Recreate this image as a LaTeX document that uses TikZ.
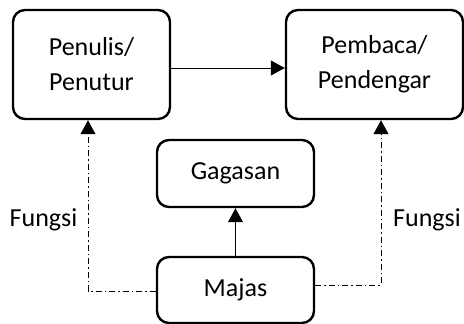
\documentclass[tikz,border=0pt]{standalone}
\usepackage{fontspec}
\setmainfont{Carlito}
\usetikzlibrary{arrows.meta}
\begin{document}
\begin{tikzpicture}[x=1pt,y=-1pt,
  box/.style={draw,line width=2.4pt,rounded corners=12pt,align=center,inner sep=0pt,
    font=\fontsize{26}{35}\selectfont},
  conn/.style={line width=1pt,-{Triangle[width=15pt,length=14pt]}},
  dashdotline/.style={conn,dash pattern=on 6pt off 3pt on 1.5pt off 3pt},
  lbl/.style={font=\fontsize{26}{35}\selectfont,inner sep=0pt}]
\useasboundingbox (0,0) rectangle (464,324);
\clip (0,0) rectangle (464,324);
\node[box,minimum width=157pt,minimum height=109pt] (pen) at (91.5,64.5) {Penulis/\\Penutur};
\node[box,minimum width=177pt,minimum height=109pt] (pem) at (374.5,64.5) {Pembaca/\\Pendengar};
\node[box,minimum width=157pt,minimum height=67pt] (gag) at (235.5,173.5) {Gagasan};
\node[box,minimum width=157pt,minimum height=66pt] (maj) at (235.5,290) {Majas};
\node[lbl] (f1) at (43.5,220) {Fungsi};
\node[lbl] (f2) at (427,220) {Fungsi};
\draw[conn] ([yshift=-3.5pt]pen.east) -- ([yshift=-3.5pt]pem.west);
\draw[conn] (maj.north) -- (gag.south);
\draw[dashdotline] ([yshift=-1pt]maj.west) -| ([xshift=-3.5pt]pen.south);
\draw[dashdotline] ([yshift=5pt]maj.east) -| ([xshift=6.5pt]pem.south);
\end{tikzpicture}
\end{document}
